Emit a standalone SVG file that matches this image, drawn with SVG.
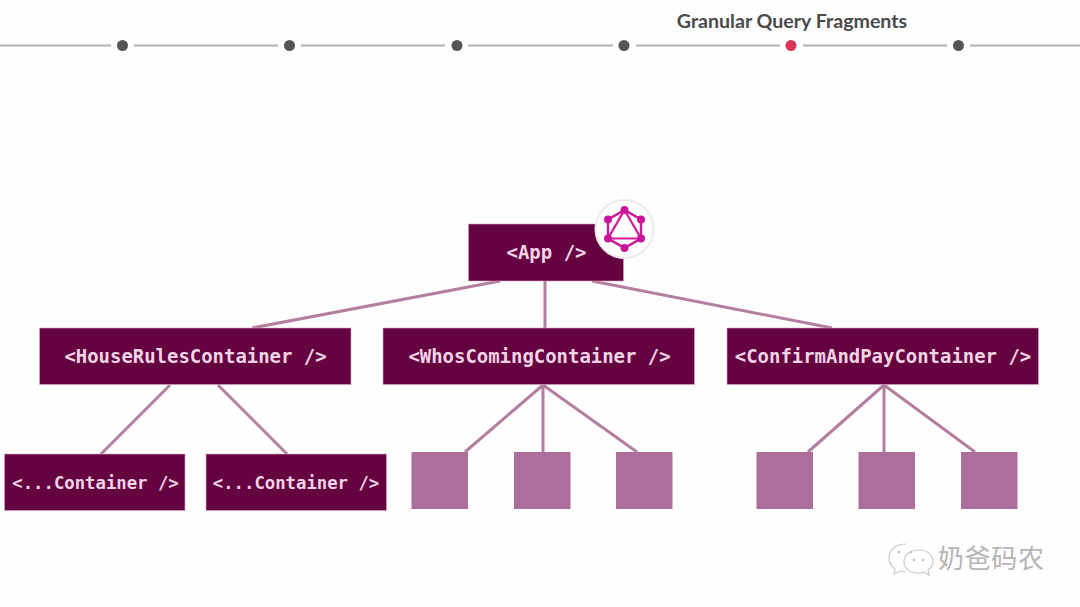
<svg xmlns="http://www.w3.org/2000/svg" width="1080" height="607" viewBox="0 0 1080 607">
<defs>
<style>
.box{fill:#64033f;stroke:#d9a3c6;stroke-width:.6}
.t{font-family:"DejaVu Sans Mono","Liberation Mono",monospace;font-weight:700;fill:#f3d3e6;text-anchor:middle}
.c{stroke:#b47f9f;stroke-width:3;fill:none}
.sq{fill:#ac6e9a}
.tl{stroke:#b0b0ae;stroke-width:2.200;fill:none}
.dot{fill:#555553}
.gq{stroke:#d01a9a;fill:none}
.gd{fill:#c9169a}
</style>
</defs>
<rect width="1080" height="607" fill="#fefefe"/>
<g id="timeline">
<path class="tl" d="M0 45.500H111M134 45.500H278M301 45.500H445M468 45.500H613M636 45.500H780M803 45.500H947M970 45.500H1080"/>
<circle class="dot" cx="122.500" cy="45.500" r="5.500"/>
<circle class="dot" cx="289.500" cy="45.500" r="5.500"/>
<circle class="dot" cx="457" cy="45.500" r="5.500"/>
<circle class="dot" cx="624" cy="45.500" r="5.500"/>
<circle cx="791" cy="45.500" r="5.500" fill="#dc3558"/>
<circle class="dot" cx="958.500" cy="45.500" r="5.500"/>
<text x="792" y="27.500" font-family="Lato,'Open Sans',sans-serif" font-weight="700" font-size="19.600" fill="#4a4a4a" text-anchor="middle">Granular Query Fragments</text>
</g>
<g id="connectors">
<path class="c" d="M500 281L252 328M545 281V328M592 281L832 328"/>
<path class="c" d="M170 385L101 454M218 385L287 454"/>
<path class="c" d="M543 385L465 452M543 385V452M543 385L637 452"/>
<path class="c" d="M884 385L808 452M884 385V452M884 385L975 452"/>
</g>
<g id="app"><rect class="box" x="468.500" y="224" width="155" height="57"/><text class="t" x="546.500" y="258.500" font-size="19">&lt;App /&gt;</text></g>
<g id="graphql-badge">
<circle cx="624.500" cy="229" r="29" fill="#fff" stroke="#efe9ec" stroke-width="2"/>
<path class="gq" stroke-width="2.400" stroke-opacity=".55" d="M624.500 210L641 219.500V238.500L624.500 248L608 238.500V219.500Z"/>
<path class="gq" stroke-width="2.200" d="M624.500 210L641 219.500V238.500L624.500 248L608 238.500V219.500Z"/>
<path class="gq" stroke-width="2.200" d="M624.500 210L641 238.500H608Z"/>
<g class="gd"><circle cx="624.500" cy="210" r="4"/><circle cx="641" cy="219.500" r="4"/><circle cx="641" cy="238.500" r="4"/><circle cx="624.500" cy="248" r="4"/><circle cx="608" cy="238.500" r="4"/><circle cx="608" cy="219.500" r="4"/></g>
</g>
<g id="house-rules"><rect class="box" x="39.500" y="328" width="311.500" height="56.500"/><text class="t" x="195.500" y="362.500" font-size="18.950">&lt;HouseRulesContainer /&gt;</text></g>
<g id="whos-coming"><rect class="box" x="383" y="328" width="311.500" height="56.500"/><text class="t" x="539.500" y="362.500" font-size="18.950">&lt;WhosComingContainer /&gt;</text></g>
<g id="confirm-pay"><rect class="box" x="727" y="328" width="311.500" height="56.500"/><text class="t" x="883" y="362.500" font-size="18.950">&lt;ConfirmAndPayContainer /&gt;</text></g>
<g id="container-1"><rect class="box" x="4.500" y="454" width="180.500" height="56.500"/><text class="t" x="95.500" y="489" font-size="17.300">&lt;...Container /&gt;</text></g>
<g id="container-2"><rect class="box" x="206" y="454" width="180.500" height="56.500"/><text class="t" x="296" y="489" font-size="17.300">&lt;...Container /&gt;</text></g>
<g id="sq-1"><rect class="sq" x="411.500" y="452" width="56.500" height="57"/></g>
<g id="sq-2"><rect class="sq" x="514" y="452" width="56.500" height="57"/></g>
<g id="sq-3"><rect class="sq" x="616" y="452" width="56.500" height="57"/></g>
<g id="sq-4"><rect class="sq" x="756.500" y="452" width="56.500" height="57"/></g>
<g id="sq-5"><rect class="sq" x="858.500" y="452" width="56.500" height="57"/></g>
<g id="sq-6"><rect class="sq" x="961" y="452" width="56.500" height="57"/></g>
<g id="watermark">
<path d="M906 544c-10 0-17 6-17 14 0 5 2 8 6 11l-1 5 6-3c2 1 4 1 6 1" fill="#fff" stroke="#c9c9c9" stroke-width="1.200"/>
<path d="M919 550c-9 0-15 5-15 12s6 11 15 11c2 0 4 0 5-1l5 3-1-5c3-2 5-5 5-8 0-7-6-12-14-12z" fill="#fff" stroke="#c9c9c9" stroke-width="1.200"/>
<g fill="#bbb"><circle cx="899" cy="552" r="1.200"/><circle cx="911" cy="552" r="1.200"/><circle cx="914" cy="560" r="1.200"/><circle cx="923" cy="560" r="1.200"/></g>
<text x="938" y="568" font-family="'Noto Sans CJK SC',sans-serif" font-size="26" fill="#b5b5b5" textLength="106">奶爸码农</text>
</g>
</svg>
